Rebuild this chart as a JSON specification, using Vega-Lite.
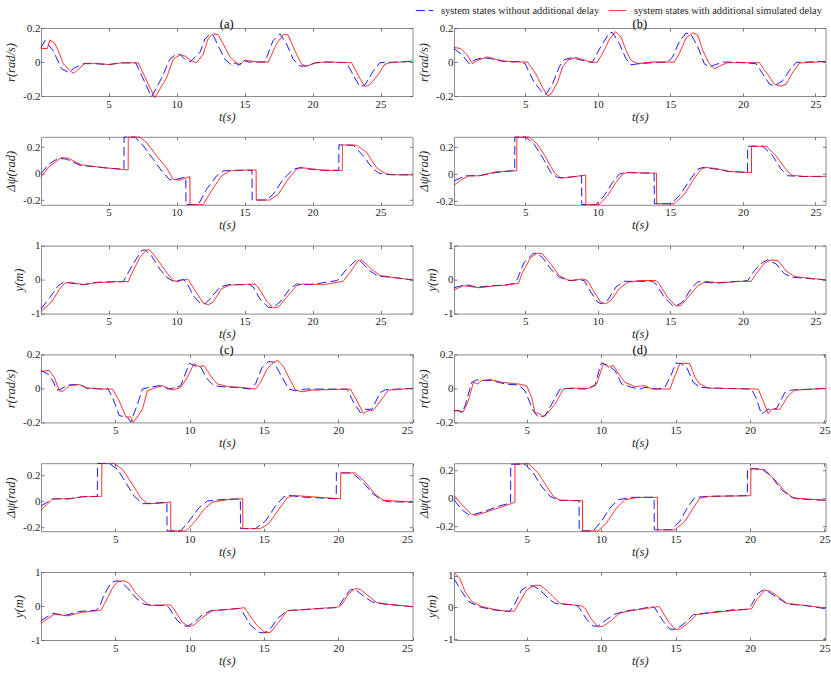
{
"$schema":"https://vega.github.io/schema/vega-lite/v6.json",
"padding":{"left":4,"top":1,"right":5,"bottom":4},
"background":"white",
"config":{
"font":"Liberation Serif",
"view":{"stroke":"#8c8c8c","strokeWidth":1},
"axis":{"labelFont":"Liberation Serif","labelFontSize":11,"labelColor":"#262626","titleFont":"Liberation Serif","titleFontSize":12.5,"titleFontStyle":"italic","titleFontWeight":"normal","titleColor":"#262626","domain":false,"grid":false,"tickColor":"#555555","tickSize":-3,"tickWidth":0.8},
"axisX":{"labelPadding":5,"titlePadding":1},
"axisY":{"labelPadding":4,"titlePadding":5,"format":".1~f","labelExpr":"replace(datum.label, '\u2212', '-')"},
"title":{"font":"Liberation Serif","fontSize":12.5,"fontWeight":"normal","color":"#000000","offset":-8},
"legend":{"labelFont":"Liberation Serif","labelFontSize":10.4,"labelColor":"#262626","labelLimit":400,"padding":0},
"line":{"strokeWidth":0.9,"clip":true}
},
"datasets":{
"ar":[{"s":"A","t":0.03,"v":0.085},{"s":"A","t":0.32,"v":0.126},{"s":"A","t":0.93,"v":0.066},{"s":"A","t":1.54,"v":-0.04},{"s":"A","t":2.03,"v":-0.06},{"s":"A","t":2.52,"v":-0.034},{"s":"A","t":3.14,"v":-0.01},{"s":"A","t":4,"v":-0.01},{"s":"A","t":5,"v":-0.015},{"s":"A","t":6,"v":-0.005},{"s":"A","t":7,"v":-0.005},{"s":"A","t":8.16,"v":-0.205},{"s":"A","t":8.9,"v":-0.094},{"s":"A","t":9.5,"v":0.016},{"s":"A","t":9.88,"v":0.04},{"s":"A","t":10.25,"v":0.046},{"s":"A","t":10.6,"v":0.016},{"s":"A","t":10.98,"v":0},{"s":"A","t":11.72,"v":0.056},{"s":"A","t":12.08,"v":0.136},{"s":"A","t":12.4,"v":0.16},{"s":"A","t":12.7,"v":0.156},{"s":"A","t":13.06,"v":0.096},{"s":"A","t":13.55,"v":0.016},{"s":"A","t":14.04,"v":-0.018},{"s":"A","t":14.3,"v":-0.005},{"s":"A","t":14.6,"v":-0.02},{"s":"A","t":14.9,"v":0.01},{"s":"A","t":15.3,"v":0},{"s":"A","t":15.8,"v":0},{"s":"A","t":16.5,"v":0},{"s":"A","t":17.1,"v":0.126},{"s":"A","t":17.6,"v":0.166},{"s":"A","t":18.09,"v":0.106},{"s":"A","t":18.58,"v":0.016},{"s":"A","t":19.07,"v":-0.024},{"s":"A","t":19.56,"v":-0.024},{"s":"A","t":20.2,"v":-0.005},{"s":"A","t":21,"v":0},{"s":"A","t":22,"v":-0.003},{"s":"A","t":22.5,"v":-0.004},{"s":"A","t":23.11,"v":-0.094},{"s":"A","t":23.48,"v":-0.145},{"s":"A","t":23.85,"v":-0.135},{"s":"A","t":24.46,"v":-0.054},{"s":"A","t":24.95,"v":-0.004},{"s":"A","t":25.5,"v":-0.002},{"s":"A","t":26.5,"v":0},{"s":"A","t":27.35,"v":0.005},
{"s":"B","t":0.03,"v":0.08},{"s":"B","t":0.5,"v":0.08},{"s":"B","t":0.69,"v":0.13},{"s":"B","t":1.05,"v":0.11},{"s":"B","t":1.3,"v":0.066},{"s":"B","t":1.67,"v":-0.01},{"s":"B","t":2.28,"v":-0.06},{"s":"B","t":2.45,"v":-0.065},{"s":"B","t":2.9,"v":-0.034},{"s":"B","t":3.26,"v":-0.008},{"s":"B","t":4,"v":-0.008},{"s":"B","t":5,"v":-0.015},{"s":"B","t":6,"v":-0.005},{"s":"B","t":7.18,"v":-0.005},{"s":"B","t":8.4,"v":-0.21},{"s":"B","t":9.26,"v":-0.094},{"s":"B","t":9.75,"v":0.016},{"s":"B","t":10.25,"v":0.042},{"s":"B","t":10.6,"v":0.036},{"s":"B","t":11.1,"v":0.006},{"s":"B","t":11.47,"v":-0.004},{"s":"B","t":11.96,"v":0.046},{"s":"B","t":12.33,"v":0.14},{"s":"B","t":12.7,"v":0.166},{"s":"B","t":13.06,"v":0.16},{"s":"B","t":13.43,"v":0.106},{"s":"B","t":13.92,"v":0.03},{"s":"B","t":14.4,"v":-0.004},{"s":"B","t":14.7,"v":-0.015},{"s":"B","t":15,"v":0.01},{"s":"B","t":15.5,"v":0.005},{"s":"B","t":16,"v":0},{"s":"B","t":16.74,"v":0},{"s":"B","t":17.35,"v":0.106},{"s":"B","t":17.84,"v":0.162},{"s":"B","t":18.2,"v":0.16},{"s":"B","t":18.7,"v":0.066},{"s":"B","t":19.2,"v":-0.014},{"s":"B","t":19.56,"v":-0.025},{"s":"B","t":20.2,"v":-0.005},{"s":"B","t":21,"v":0},{"s":"B","t":22,"v":-0.002},{"s":"B","t":22.87,"v":-0.004},{"s":"B","t":23.6,"v":-0.114},{"s":"B","t":23.85,"v":-0.145},{"s":"B","t":24.2,"v":-0.134},{"s":"B","t":24.83,"v":-0.074},{"s":"B","t":25.3,"v":-0.014},{"s":"B","t":25.7,"v":-0.004},{"s":"B","t":26.5,"v":0},{"s":"B","t":27.35,"v":0.005}],
"ap":[{"s":"A","t":0.03,"v":0},{"s":"A","t":0.6,"v":0.07},{"s":"A","t":1.3,"v":0.116},{"s":"A","t":1.9,"v":0.109},{"s":"A","t":2.9,"v":0.063},{"s":"A","t":4.6,"v":0.045},{"s":"A","t":5.96,"v":0.033},{"s":"A","t":6.13,"v":0.032},{"s":"A","t":6.14,"v":0.276},{"s":"A","t":6.94,"v":0.276},{"s":"A","t":7.55,"v":0.21},{"s":"A","t":8.28,"v":0.109},{"s":"A","t":8.9,"v":0.02},{"s":"A","t":9.5,"v":-0.048},{"s":"A","t":10,"v":-0.043},{"s":"A","t":10.49,"v":-0.03},{"s":"A","t":10.68,"v":-0.025},{"s":"A","t":10.69,"v":-0.234},{"s":"A","t":11.6,"v":-0.234},{"s":"A","t":12.2,"v":-0.119},{"s":"A","t":12.94,"v":-0.018},{"s":"A","t":13.43,"v":0.02},{"s":"A","t":14.4,"v":0.025},{"s":"A","t":15.55,"v":0.025},{"s":"A","t":15.56,"v":-0.2},{"s":"A","t":16.6,"v":-0.2},{"s":"A","t":17.1,"v":-0.157},{"s":"A","t":17.84,"v":-0.043},{"s":"A","t":18.58,"v":0.033},{"s":"A","t":19.07,"v":0.045},{"s":"A","t":19.8,"v":0.033},{"s":"A","t":20.78,"v":0.025},{"s":"A","t":21.93,"v":0.025},{"s":"A","t":21.94,"v":0.217},{"s":"A","t":23,"v":0.214},{"s":"A","t":23.73,"v":0.134},{"s":"A","t":24.46,"v":0.033},{"s":"A","t":24.95,"v":0},{"s":"A","t":25.7,"v":-0.008},{"s":"A","t":27.35,"v":-0.01},
{"s":"B","t":0.03,"v":-0.023},{"s":"B","t":0.69,"v":0.058},{"s":"B","t":1.54,"v":0.121},{"s":"B","t":2.03,"v":0.116},{"s":"B","t":3,"v":0.066},{"s":"B","t":4.6,"v":0.045},{"s":"B","t":6.3,"v":0.028},{"s":"B","t":6.44,"v":0.028},{"s":"B","t":6.45,"v":0.276},{"s":"B","t":7.3,"v":0.276},{"s":"B","t":7.79,"v":0.235},{"s":"B","t":8.53,"v":0.134},{"s":"B","t":9.26,"v":0.045},{"s":"B","t":9.75,"v":-0.043},{"s":"B","t":10.25,"v":-0.05},{"s":"B","t":10.74,"v":-0.03},{"s":"B","t":10.98,"v":-0.023},{"s":"B","t":10.99,"v":-0.234},{"s":"B","t":11.96,"v":-0.234},{"s":"B","t":12.57,"v":-0.13},{"s":"B","t":13.3,"v":-0.018},{"s":"B","t":13.92,"v":0.02},{"s":"B","t":14.7,"v":0.025},{"s":"B","t":15.85,"v":0.028},{"s":"B","t":15.86,"v":-0.2},{"s":"B","t":16.86,"v":-0.2},{"s":"B","t":17.48,"v":-0.157},{"s":"B","t":18.2,"v":-0.043},{"s":"B","t":18.82,"v":0.033},{"s":"B","t":19.2,"v":0.045},{"s":"B","t":19.8,"v":0.038},{"s":"B","t":20.8,"v":0.025},{"s":"B","t":22.19,"v":0.023},{"s":"B","t":22.2,"v":0.217},{"s":"B","t":23.24,"v":0.214},{"s":"B","t":23.97,"v":0.16},{"s":"B","t":24.7,"v":0.045},{"s":"B","t":25.2,"v":0.008},{"s":"B","t":25.7,"v":-0.008},{"s":"B","t":27.35,"v":-0.01}],
"ay":[{"s":"A","t":0.03,"v":-0.86},{"s":"A","t":0.69,"v":-0.52},{"s":"A","t":1.3,"v":-0.18},{"s":"A","t":1.67,"v":-0.08},{"s":"A","t":2.16,"v":-0.1},{"s":"A","t":3.14,"v":-0.15},{"s":"A","t":4.1,"v":-0.08},{"s":"A","t":5.6,"v":-0.06},{"s":"A","t":6.08,"v":-0.06},{"s":"A","t":6.8,"v":0.46},{"s":"A","t":7.43,"v":0.85},{"s":"A","t":7.67,"v":0.88},{"s":"A","t":8.16,"v":0.7},{"s":"A","t":8.77,"v":0.31},{"s":"A","t":9.26,"v":0.07},{"s":"A","t":9.75,"v":-0.05},{"s":"A","t":10.49,"v":0},{"s":"A","t":10.74,"v":-0.08},{"s":"A","t":11.23,"v":-0.47},{"s":"A","t":11.72,"v":-0.69},{"s":"A","t":12.08,"v":-0.71},{"s":"A","t":12.45,"v":-0.57},{"s":"A","t":13.19,"v":-0.22},{"s":"A","t":13.8,"v":-0.15},{"s":"A","t":15.39,"v":-0.15},{"s":"A","t":15.64,"v":-0.22},{"s":"A","t":16.13,"v":-0.57},{"s":"A","t":16.74,"v":-0.81},{"s":"A","t":17.1,"v":-0.83},{"s":"A","t":17.6,"v":-0.66},{"s":"A","t":18.33,"v":-0.27},{"s":"A","t":18.82,"v":-0.13},{"s":"A","t":19.8,"v":-0.15},{"s":"A","t":21.76,"v":-0.03},{"s":"A","t":21.9,"v":0},{"s":"A","t":22.5,"v":0.31},{"s":"A","t":23.24,"v":0.58},{"s":"A","t":23.48,"v":0.56},{"s":"A","t":24.2,"v":0.26},{"s":"A","t":24.83,"v":0.1},{"s":"A","t":26.2,"v":0.05},{"s":"A","t":27.35,"v":-0.01},
{"s":"B","t":0.03,"v":-0.93},{"s":"B","t":0.8,"v":-0.66},{"s":"B","t":1.42,"v":-0.27},{"s":"B","t":1.79,"v":-0.1},{"s":"B","t":2.16,"v":-0.08},{"s":"B","t":3.14,"v":-0.15},{"s":"B","t":4.1,"v":-0.09},{"s":"B","t":5.6,"v":-0.06},{"s":"B","t":6.45,"v":-0.06},{"s":"B","t":6.69,"v":0.17},{"s":"B","t":7.3,"v":0.65},{"s":"B","t":7.79,"v":0.88},{"s":"B","t":8.04,"v":0.87},{"s":"B","t":8.65,"v":0.56},{"s":"B","t":9.26,"v":0.21},{"s":"B","t":9.75,"v":-0.03},{"s":"B","t":10.12,"v":-0.06},{"s":"B","t":10.49,"v":0},{"s":"B","t":10.86,"v":0},{"s":"B","t":11.35,"v":-0.32},{"s":"B","t":11.96,"v":-0.69},{"s":"B","t":12.33,"v":-0.74},{"s":"B","t":12.7,"v":-0.66},{"s":"B","t":13.3,"v":-0.27},{"s":"B","t":13.92,"v":-0.16},{"s":"B","t":15.76,"v":-0.13},{"s":"B","t":16,"v":-0.22},{"s":"B","t":16.62,"v":-0.63},{"s":"B","t":17.1,"v":-0.83},{"s":"B","t":17.48,"v":-0.81},{"s":"B","t":18.09,"v":-0.52},{"s":"B","t":18.82,"v":-0.18},{"s":"B","t":19.3,"v":-0.13},{"s":"B","t":20.8,"v":-0.15},{"s":"B","t":22.25,"v":-0.05},{"s":"B","t":22.75,"v":0.21},{"s":"B","t":23.36,"v":0.56},{"s":"B","t":23.6,"v":0.58},{"s":"B","t":24.34,"v":0.31},{"s":"B","t":24.95,"v":0.12},{"s":"B","t":26.2,"v":0.05},{"s":"B","t":27.35,"v":-0.01}],
"br":[{"s":"A","t":0.1,"v":0.08},{"s":"A","t":0.68,"v":0.04},{"s":"A","t":1.14,"v":-0.01},{"s":"A","t":1.48,"v":0.01},{"s":"A","t":2.06,"v":0.026},{"s":"A","t":2.63,"v":0.02},{"s":"A","t":3.32,"v":0.006},{"s":"A","t":4.13,"v":0},{"s":"A","t":4.59,"v":0.004},{"s":"A","t":5,"v":-0.01},{"s":"A","t":5.62,"v":-0.12},{"s":"A","t":6.2,"v":-0.18},{"s":"A","t":6.43,"v":-0.19},{"s":"A","t":6.89,"v":-0.13},{"s":"A","t":7.34,"v":-0.03},{"s":"A","t":7.69,"v":0.014},{"s":"A","t":8.26,"v":0.026},{"s":"A","t":8.72,"v":0.014},{"s":"A","t":9.41,"v":0},{"s":"A","t":9.64,"v":0},{"s":"A","t":10.21,"v":0.09},{"s":"A","t":10.79,"v":0.17},{"s":"A","t":11,"v":0.175},{"s":"A","t":11.48,"v":0.11},{"s":"A","t":11.94,"v":0.02},{"s":"A","t":12.29,"v":-0.016},{"s":"A","t":12.86,"v":-0.01},{"s":"A","t":13.78,"v":-0.004},{"s":"A","t":14.82,"v":0},{"s":"A","t":15.16,"v":0.03},{"s":"A","t":15.62,"v":0.12},{"s":"A","t":16.08,"v":0.17},{"s":"A","t":16.43,"v":0.162},{"s":"A","t":16.89,"v":0.09},{"s":"A","t":17.34,"v":-0.01},{"s":"A","t":17.69,"v":-0.03},{"s":"A","t":18.15,"v":-0.014},{"s":"A","t":18.72,"v":0},{"s":"A","t":19.76,"v":-0.002},{"s":"A","t":20.9,"v":-0.01},{"s":"A","t":21.37,"v":-0.07},{"s":"A","t":21.83,"v":-0.13},{"s":"A","t":22.17,"v":-0.14},{"s":"A","t":22.75,"v":-0.11},{"s":"A","t":23.2,"v":-0.05},{"s":"A","t":23.67,"v":-0.002},{"s":"A","t":25.69,"v":0.003},
{"s":"B","t":0.1,"v":0.085},{"s":"B","t":0.56,"v":0.08},{"s":"B","t":1.02,"v":0.04},{"s":"B","t":1.37,"v":-0.01},{"s":"B","t":1.71,"v":0.01},{"s":"B","t":2.4,"v":0.03},{"s":"B","t":2.98,"v":0.016},{"s":"B","t":3.67,"v":0.004},{"s":"B","t":4.59,"v":0},{"s":"B","t":5.16,"v":0},{"s":"B","t":5.74,"v":-0.07},{"s":"B","t":6.2,"v":-0.15},{"s":"B","t":6.54,"v":-0.198},{"s":"B","t":6.77,"v":-0.19},{"s":"B","t":7.23,"v":-0.12},{"s":"B","t":7.57,"v":-0.03},{"s":"B","t":7.92,"v":0.01},{"s":"B","t":8.49,"v":0.026},{"s":"B","t":8.95,"v":0.016},{"s":"B","t":9.64,"v":-0.004},{"s":"B","t":9.99,"v":0},{"s":"B","t":10.45,"v":0.07},{"s":"B","t":10.8,"v":0.133},{"s":"B","t":11.14,"v":0.17},{"s":"B","t":11.25,"v":0.178},{"s":"B","t":11.6,"v":0.148},{"s":"B","t":11.94,"v":0.07},{"s":"B","t":12.29,"v":0.01},{"s":"B","t":12.75,"v":-0.01},{"s":"B","t":13.78,"v":0},{"s":"B","t":15.28,"v":0},{"s":"B","t":15.62,"v":0.05},{"s":"B","t":16.08,"v":0.14},{"s":"B","t":16.54,"v":0.172},{"s":"B","t":16.89,"v":0.158},{"s":"B","t":17.23,"v":0.07},{"s":"B","t":17.69,"v":-0.01},{"s":"B","t":18.03,"v":-0.04},{"s":"B","t":18.5,"v":-0.02},{"s":"B","t":18.95,"v":-0.004},{"s":"B","t":21.14,"v":-0.004},{"s":"B","t":21.6,"v":-0.06},{"s":"B","t":22.17,"v":-0.13},{"s":"B","t":22.63,"v":-0.142},{"s":"B","t":22.98,"v":-0.13},{"s":"B","t":23.44,"v":-0.06},{"s":"B","t":23.9,"v":-0.006},{"s":"B","t":25.69,"v":0.003}],
"bp":[{"s":"A","t":0.1,"v":-0.05},{"s":"A","t":0.9,"v":-0.012},{"s":"A","t":1.83,"v":-0.012},{"s":"A","t":2.98,"v":0.012},{"s":"A","t":4.13,"v":0.025},{"s":"A","t":4.28,"v":0.025},{"s":"A","t":4.29,"v":0.276},{"s":"A","t":5.05,"v":0.276},{"s":"A","t":5.62,"v":0.223},{"s":"A","t":6.2,"v":0.124},{"s":"A","t":6.77,"v":0.012},{"s":"A","t":7.23,"v":-0.025},{"s":"A","t":7.8,"v":-0.025},{"s":"A","t":8.89,"v":-0.012},{"s":"A","t":8.9,"v":-0.226},{"s":"A","t":9.87,"v":-0.226},{"s":"A","t":10.45,"v":-0.16},{"s":"A","t":11.02,"v":-0.062},{"s":"A","t":11.48,"v":0},{"s":"A","t":11.83,"v":0.012},{"s":"A","t":13.89,"v":0.007},{"s":"A","t":13.9,"v":-0.22},{"s":"A","t":15.05,"v":-0.22},{"s":"A","t":15.62,"v":-0.16},{"s":"A","t":16.31,"v":-0.05},{"s":"A","t":16.89,"v":0.037},{"s":"A","t":17.23,"v":0.05},{"s":"A","t":18.15,"v":0.037},{"s":"A","t":19.07,"v":0.02},{"s":"A","t":20.32,"v":0.012},{"s":"A","t":20.33,"v":0.208},{"s":"A","t":21.37,"v":0.208},{"s":"A","t":22.06,"v":0.136},{"s":"A","t":22.63,"v":0.037},{"s":"A","t":23.09,"v":-0.012},{"s":"A","t":24.13,"v":-0.017},{"s":"A","t":25.69,"v":-0.017},
{"s":"B","t":0.1,"v":-0.082},{"s":"B","t":0.68,"v":-0.037},{"s":"B","t":1.14,"v":-0.012},{"s":"B","t":1.83,"v":-0.012},{"s":"B","t":2.98,"v":0.017},{"s":"B","t":4.13,"v":0.025},{"s":"B","t":4.42,"v":0.025},{"s":"B","t":4.43,"v":0.276},{"s":"B","t":5.28,"v":0.276},{"s":"B","t":5.85,"v":0.223},{"s":"B","t":6.43,"v":0.124},{"s":"B","t":7,"v":0.012},{"s":"B","t":7.46,"v":-0.03},{"s":"B","t":7.92,"v":-0.025},{"s":"B","t":9.17,"v":-0.007},{"s":"B","t":9.18,"v":-0.226},{"s":"B","t":10.1,"v":-0.226},{"s":"B","t":10.68,"v":-0.16},{"s":"B","t":11.25,"v":-0.062},{"s":"B","t":11.71,"v":0},{"s":"B","t":12.06,"v":0.012},{"s":"B","t":14.05,"v":0.007},{"s":"B","t":14.06,"v":-0.22},{"s":"B","t":15.28,"v":-0.22},{"s":"B","t":15.97,"v":-0.15},{"s":"B","t":16.54,"v":-0.05},{"s":"B","t":17.11,"v":0.037},{"s":"B","t":17.46,"v":0.05},{"s":"B","t":18.15,"v":0.042},{"s":"B","t":19.07,"v":0.02},{"s":"B","t":20.59,"v":0.012},{"s":"B","t":20.6,"v":0.208},{"s":"B","t":21.6,"v":0.208},{"s":"B","t":22.29,"v":0.136},{"s":"B","t":22.86,"v":0.05},{"s":"B","t":23.32,"v":-0.007},{"s":"B","t":24.13,"v":-0.017},{"s":"B","t":25.69,"v":-0.017}],
"by":[{"s":"A","t":0.1,"v":-0.24},{"s":"A","t":0.9,"v":-0.15},{"s":"A","t":1.71,"v":-0.22},{"s":"A","t":2.75,"v":-0.18},{"s":"A","t":3.67,"v":-0.16},{"s":"A","t":4.24,"v":-0.11},{"s":"A","t":4.47,"v":0.02},{"s":"A","t":4.93,"v":0.51},{"s":"A","t":5.51,"v":0.75},{"s":"A","t":5.74,"v":0.78},{"s":"A","t":6.2,"v":0.65},{"s":"A","t":6.77,"v":0.31},{"s":"A","t":7.34,"v":0.07},{"s":"A","t":8.03,"v":-0.03},{"s":"A","t":8.72,"v":0},{"s":"A","t":9.07,"v":-0.03},{"s":"A","t":9.53,"v":-0.37},{"s":"A","t":9.99,"v":-0.66},{"s":"A","t":10.22,"v":-0.71},{"s":"A","t":10.68,"v":-0.61},{"s":"A","t":11.25,"v":-0.22},{"s":"A","t":11.83,"v":-0.05},{"s":"A","t":13.78,"v":-0.05},{"s":"A","t":14.01,"v":-0.13},{"s":"A","t":14.59,"v":-0.52},{"s":"A","t":15.16,"v":-0.76},{"s":"A","t":15.39,"v":-0.78},{"s":"A","t":15.85,"v":-0.66},{"s":"A","t":16.43,"v":-0.27},{"s":"A","t":16.89,"v":-0.06},{"s":"A","t":17.92,"v":-0.1},{"s":"A","t":19.76,"v":-0.05},{"s":"A","t":20.33,"v":-0.03},{"s":"A","t":20.79,"v":0.26},{"s":"A","t":21.37,"v":0.51},{"s":"A","t":21.71,"v":0.58},{"s":"A","t":22.29,"v":0.46},{"s":"A","t":22.86,"v":0.17},{"s":"A","t":23.44,"v":0.07},{"s":"A","t":25.69,"v":-0.01},
{"s":"B","t":0.1,"v":-0.3},{"s":"B","t":0.79,"v":-0.18},{"s":"B","t":1.83,"v":-0.24},{"s":"B","t":2.75,"v":-0.19},{"s":"B","t":3.67,"v":-0.16},{"s":"B","t":4.54,"v":-0.11},{"s":"B","t":4.82,"v":0.21},{"s":"B","t":5.39,"v":0.65},{"s":"B","t":5.85,"v":0.78},{"s":"B","t":6.2,"v":0.75},{"s":"B","t":6.77,"v":0.46},{"s":"B","t":7.34,"v":0.12},{"s":"B","t":7.92,"v":-0.01},{"s":"B","t":8.26,"v":-0.03},{"s":"B","t":8.95,"v":0.02},{"s":"B","t":9.3,"v":-0.03},{"s":"B","t":9.76,"v":-0.37},{"s":"B","t":10.22,"v":-0.68},{"s":"B","t":10.56,"v":-0.71},{"s":"B","t":10.91,"v":-0.61},{"s":"B","t":11.48,"v":-0.27},{"s":"B","t":12.06,"v":-0.08},{"s":"B","t":12.86,"v":-0.03},{"s":"B","t":14.01,"v":-0.03},{"s":"B","t":14.24,"v":-0.13},{"s":"B","t":14.82,"v":-0.52},{"s":"B","t":15.39,"v":-0.78},{"s":"B","t":15.74,"v":-0.76},{"s":"B","t":16.31,"v":-0.47},{"s":"B","t":16.89,"v":-0.18},{"s":"B","t":17.46,"v":-0.05},{"s":"B","t":18.38,"v":-0.1},{"s":"B","t":19.76,"v":-0.05},{"s":"B","t":20.56,"v":-0.05},{"s":"B","t":20.91,"v":0.17},{"s":"B","t":21.48,"v":0.48},{"s":"B","t":21.94,"v":0.58},{"s":"B","t":22.4,"v":0.56},{"s":"B","t":22.98,"v":0.26},{"s":"B","t":23.55,"v":0.09},{"s":"B","t":25.69,"v":-0.01}],
"cr":[{"s":"A","t":0.01,"v":0.105},{"s":"A","t":0.46,"v":0.085},{"s":"A","t":0.8,"v":0.046},{"s":"A","t":1.09,"v":-0.01},{"s":"A","t":1.35,"v":-0.004},{"s":"A","t":1.8,"v":0.02},{"s":"A","t":2.25,"v":0.022},{"s":"A","t":2.7,"v":0.022},{"s":"A","t":3.03,"v":0.002},{"s":"A","t":4.15,"v":-0.004},{"s":"A","t":4.49,"v":0.002},{"s":"A","t":4.82,"v":-0.053},{"s":"A","t":5.27,"v":-0.16},{"s":"A","t":5.6,"v":-0.166},{"s":"A","t":5.83,"v":-0.17},{"s":"A","t":6.05,"v":-0.198},{"s":"A","t":6.5,"v":-0.093},{"s":"A","t":6.83,"v":-0.004},{"s":"A","t":7.28,"v":0.006},{"s":"A","t":7.95,"v":0.016},{"s":"A","t":8.62,"v":-0.004},{"s":"A","t":9.07,"v":0.006},{"s":"A","t":9.41,"v":0.016},{"s":"A","t":9.85,"v":0.115},{"s":"A","t":10,"v":0.148},{"s":"A","t":10.3,"v":0.134},{"s":"A","t":10.75,"v":0.125},{"s":"A","t":11.2,"v":0.055},{"s":"A","t":11.64,"v":0.016},{"s":"A","t":12.2,"v":0.01},{"s":"A","t":13.1,"v":0.006},{"s":"A","t":14.1,"v":-0.004},{"s":"A","t":14.44,"v":0.026},{"s":"A","t":14.89,"v":0.125},{"s":"A","t":15.34,"v":0.158},{"s":"A","t":15.67,"v":0.154},{"s":"A","t":16.23,"v":0.065},{"s":"A","t":16.68,"v":-0.004},{"s":"A","t":17.13,"v":-0.014},{"s":"A","t":17.8,"v":-0.004},{"s":"A","t":20.6,"v":-0.004},{"s":"A","t":21.04,"v":-0.083},{"s":"A","t":21.49,"v":-0.143},{"s":"A","t":21.82,"v":-0.123},{"s":"A","t":22.27,"v":-0.123},{"s":"A","t":22.83,"v":-0.024},{"s":"A","t":23.17,"v":-0.008},{"s":"A","t":25,"v":0},
{"s":"B","t":0.01,"v":0.1},{"s":"B","t":0.57,"v":0.105},{"s":"B","t":0.9,"v":0.065},{"s":"B","t":1.24,"v":-0.014},{"s":"B","t":1.47,"v":-0.018},{"s":"B","t":1.91,"v":0.016},{"s":"B","t":2.58,"v":0.022},{"s":"B","t":3.14,"v":0.002},{"s":"B","t":4.37,"v":-0.004},{"s":"B","t":4.82,"v":-0.004},{"s":"B","t":5.27,"v":-0.073},{"s":"B","t":5.72,"v":-0.168},{"s":"B","t":6.05,"v":-0.168},{"s":"B","t":6.21,"v":-0.2},{"s":"B","t":6.39,"v":-0.18},{"s":"B","t":6.83,"v":-0.123},{"s":"B","t":7.17,"v":-0.014},{"s":"B","t":7.62,"v":0.002},{"s":"B","t":8.18,"v":0.016},{"s":"B","t":8.85,"v":-0.01},{"s":"B","t":9.41,"v":0.006},{"s":"B","t":9.85,"v":0.065},{"s":"B","t":10.3,"v":0.145},{"s":"B","t":10.64,"v":0.128},{"s":"B","t":10.97,"v":0.134},{"s":"B","t":11.42,"v":0.075},{"s":"B","t":11.87,"v":0.026},{"s":"B","t":12.65,"v":0.01},{"s":"B","t":13.55,"v":0.006},{"s":"B","t":14.44,"v":-0.004},{"s":"B","t":14.78,"v":0.036},{"s":"B","t":15.22,"v":0.115},{"s":"B","t":15.67,"v":0.154},{"s":"B","t":15.96,"v":0.164},{"s":"B","t":16.34,"v":0.125},{"s":"B","t":16.79,"v":0.046},{"s":"B","t":17.13,"v":-0.01},{"s":"B","t":17.57,"v":-0.02},{"s":"B","t":18.24,"v":-0.01},{"s":"B","t":20.82,"v":-0.004},{"s":"B","t":21.26,"v":-0.073},{"s":"B","t":21.71,"v":-0.148},{"s":"B","t":21.93,"v":-0.133},{"s":"B","t":22.38,"v":-0.128},{"s":"B","t":22.94,"v":-0.063},{"s":"B","t":23.39,"v":-0.01},{"s":"B","t":25,"v":0}],
"cp":[{"s":"A","t":0.01,"v":-0.036},{"s":"A","t":0.8,"v":0.02},{"s":"A","t":1.91,"v":0.02},{"s":"A","t":2.81,"v":0.036},{"s":"A","t":3.8,"v":0.039},{"s":"A","t":3.81,"v":0.293},{"s":"A","t":4.6,"v":0.293},{"s":"A","t":5.16,"v":0.248},{"s":"A","t":5.72,"v":0.144},{"s":"A","t":6.28,"v":0.041},{"s":"A","t":6.83,"v":-0.018},{"s":"A","t":7.5,"v":-0.015},{"s":"A","t":8.48,"v":-0.005},{"s":"A","t":8.49,"v":-0.228},{"s":"A","t":9.41,"v":-0.228},{"s":"A","t":9.97,"v":-0.152},{"s":"A","t":10.64,"v":-0.049},{"s":"A","t":11.2,"v":0.003},{"s":"A","t":12.2,"v":0.015},{"s":"A","t":13.42,"v":0.02},{"s":"A","t":13.43,"v":-0.21},{"s":"A","t":14.44,"v":-0.21},{"s":"A","t":15.11,"v":-0.152},{"s":"A","t":15.78,"v":-0.036},{"s":"A","t":16.34,"v":0.036},{"s":"A","t":16.68,"v":0.046},{"s":"A","t":17.57,"v":0.034},{"s":"A","t":19.87,"v":0.02},{"s":"A","t":19.88,"v":0.22},{"s":"A","t":20.93,"v":0.22},{"s":"A","t":21.6,"v":0.157},{"s":"A","t":22.27,"v":0.067},{"s":"A","t":22.83,"v":0.015},{"s":"A","t":23.39,"v":-0.003},{"s":"A","t":25,"v":-0.005},
{"s":"B","t":0.01,"v":-0.067},{"s":"B","t":0.8,"v":0.02},{"s":"B","t":1.91,"v":0.02},{"s":"B","t":2.81,"v":0.036},{"s":"B","t":4.09,"v":0.039},{"s":"B","t":4.1,"v":0.293},{"s":"B","t":4.93,"v":0.293},{"s":"B","t":5.49,"v":0.248},{"s":"B","t":6.16,"v":0.132},{"s":"B","t":6.72,"v":0.028},{"s":"B","t":7.17,"v":-0.018},{"s":"B","t":7.95,"v":-0.015},{"s":"B","t":8.73,"v":-0.005},{"s":"B","t":8.74,"v":-0.228},{"s":"B","t":9.74,"v":-0.228},{"s":"B","t":10.3,"v":-0.165},{"s":"B","t":10.97,"v":-0.062},{"s":"B","t":11.53,"v":-0.005},{"s":"B","t":12.65,"v":0.015},{"s":"B","t":13.58,"v":0.02},{"s":"B","t":13.59,"v":-0.21},{"s":"B","t":14.78,"v":-0.21},{"s":"B","t":15.34,"v":-0.17},{"s":"B","t":16,"v":-0.062},{"s":"B","t":16.57,"v":0.028},{"s":"B","t":17.01,"v":0.046},{"s":"B","t":17.57,"v":0.041},{"s":"B","t":20.16,"v":0.02},{"s":"B","t":20.17,"v":0.22},{"s":"B","t":21.15,"v":0.22},{"s":"B","t":21.82,"v":0.15},{"s":"B","t":22.49,"v":0.054},{"s":"B","t":23.05,"v":0.008},{"s":"B","t":25,"v":-0.005}],
"cy":[{"s":"A","t":0.01,"v":-0.43},{"s":"A","t":0.8,"v":-0.22},{"s":"A","t":1.69,"v":-0.27},{"s":"A","t":2.58,"v":-0.16},{"s":"A","t":3.7,"v":-0.125},{"s":"A","t":3.93,"v":-0.05},{"s":"A","t":4.26,"v":0.34},{"s":"A","t":4.71,"v":0.67},{"s":"A","t":5.04,"v":0.74},{"s":"A","t":5.38,"v":0.72},{"s":"A","t":5.83,"v":0.53},{"s":"A","t":6.39,"v":0.24},{"s":"A","t":6.95,"v":0.05},{"s":"A","t":7.5,"v":0.02},{"s":"A","t":8.4,"v":0.02},{"s":"A","t":8.62,"v":-0.05},{"s":"A","t":9.18,"v":-0.43},{"s":"A","t":9.63,"v":-0.58},{"s":"A","t":9.85,"v":-0.6},{"s":"A","t":10.3,"v":-0.48},{"s":"A","t":10.86,"v":-0.26},{"s":"A","t":11.42,"v":-0.14},{"s":"A","t":12.65,"v":-0.1},{"s":"A","t":13.32,"v":-0.07},{"s":"A","t":13.59,"v":-0.19},{"s":"A","t":14.1,"v":-0.56},{"s":"A","t":14.66,"v":-0.77},{"s":"A","t":15,"v":-0.79},{"s":"A","t":15.34,"v":-0.72},{"s":"A","t":16,"v":-0.34},{"s":"A","t":16.57,"v":-0.14},{"s":"A","t":16.9,"v":-0.125},{"s":"A","t":19.8,"v":-0.05},{"s":"A","t":20.03,"v":-0.02},{"s":"A","t":20.48,"v":0.29},{"s":"A","t":20.82,"v":0.48},{"s":"A","t":21.15,"v":0.49},{"s":"A","t":21.71,"v":0.29},{"s":"A","t":22.27,"v":0.12},{"s":"A","t":23.17,"v":0.05},{"s":"A","t":25,"v":-0.02},
{"s":"B","t":0.01,"v":-0.51},{"s":"B","t":0.91,"v":-0.24},{"s":"B","t":1.8,"v":-0.29},{"s":"B","t":2.7,"v":-0.19},{"s":"B","t":4.04,"v":-0.125},{"s":"B","t":4.37,"v":0.14},{"s":"B","t":4.82,"v":0.53},{"s":"B","t":5.16,"v":0.72},{"s":"B","t":5.6,"v":0.74},{"s":"B","t":5.94,"v":0.67},{"s":"B","t":6.39,"v":0.38},{"s":"B","t":6.83,"v":0.19},{"s":"B","t":7.28,"v":0.02},{"s":"B","t":8.74,"v":0.03},{"s":"B","t":8.96,"v":-0.1},{"s":"B","t":9.52,"v":-0.48},{"s":"B","t":9.97,"v":-0.61},{"s":"B","t":10.3,"v":-0.56},{"s":"B","t":10.86,"v":-0.34},{"s":"B","t":11.53,"v":-0.14},{"s":"B","t":13.1,"v":-0.08},{"s":"B","t":13.72,"v":-0.05},{"s":"B","t":13.99,"v":-0.24},{"s":"B","t":14.55,"v":-0.58},{"s":"B","t":15.11,"v":-0.79},{"s":"B","t":15.45,"v":-0.77},{"s":"B","t":16,"v":-0.48},{"s":"B","t":16.57,"v":-0.14},{"s":"B","t":17.13,"v":-0.125},{"s":"B","t":20.03,"v":-0.03},{"s":"B","t":20.26,"v":0.05},{"s":"B","t":20.7,"v":0.36},{"s":"B","t":21.15,"v":0.51},{"s":"B","t":21.49,"v":0.49},{"s":"B","t":22.05,"v":0.29},{"s":"B","t":22.6,"v":0.1},{"s":"B","t":23.39,"v":0.05},{"s":"B","t":25,"v":-0.02}],
"dr":[{"s":"A","t":0.12,"v":-0.133},{"s":"A","t":0.41,"v":-0.129},{"s":"A","t":0.64,"v":-0.143},{"s":"A","t":0.86,"v":-0.103},{"s":"A","t":1.31,"v":0.036},{"s":"A","t":1.64,"v":0.05},{"s":"A","t":2.09,"v":0.046},{"s":"A","t":2.65,"v":0.046},{"s":"A","t":3.55,"v":0.026},{"s":"A","t":4.44,"v":0.02},{"s":"A","t":4.89,"v":-0.014},{"s":"A","t":5.45,"v":-0.133},{"s":"A","t":5.78,"v":-0.168},{"s":"A","t":6.23,"v":-0.162},{"s":"A","t":6.68,"v":-0.093},{"s":"A","t":7.24,"v":-0.004},{"s":"A","t":7.68,"v":0},{"s":"A","t":8.91,"v":-0.004},{"s":"A","t":9.59,"v":0.016},{"s":"A","t":9.92,"v":0.125},{"s":"A","t":10.03,"v":0.15},{"s":"A","t":10.48,"v":0.135},{"s":"A","t":10.93,"v":0.105},{"s":"A","t":11.38,"v":0.026},{"s":"A","t":12.05,"v":0.006},{"s":"A","t":12.61,"v":-0.004},{"s":"A","t":12.94,"v":0.006},{"s":"A","t":13.84,"v":-0.004},{"s":"A","t":14.28,"v":0.006},{"s":"A","t":14.73,"v":0.085},{"s":"A","t":15.02,"v":0.15},{"s":"A","t":15.4,"v":0.145},{"s":"A","t":15.74,"v":0.125},{"s":"A","t":16.19,"v":0.036},{"s":"A","t":16.63,"v":0.006},{"s":"A","t":17.42,"v":0.002},{"s":"A","t":20.1,"v":-0.004},{"s":"A","t":20.44,"v":-0.063},{"s":"A","t":20.77,"v":-0.152},{"s":"A","t":21.22,"v":-0.123},{"s":"A","t":21.78,"v":-0.119},{"s":"A","t":22.34,"v":-0.024},{"s":"A","t":22.79,"v":-0.01},{"s":"A","t":25.07,"v":0},
{"s":"B","t":0.12,"v":-0.129},{"s":"B","t":0.75,"v":-0.137},{"s":"B","t":1.09,"v":-0.073},{"s":"B","t":1.42,"v":0.036},{"s":"B","t":1.71,"v":0.026},{"s":"B","t":1.98,"v":0.046},{"s":"B","t":2.54,"v":0.052},{"s":"B","t":3.32,"v":0.036},{"s":"B","t":4.44,"v":0.026},{"s":"B","t":5,"v":0.016},{"s":"B","t":5.34,"v":-0.053},{"s":"B","t":5.56,"v":-0.143},{"s":"B","t":5.89,"v":-0.149},{"s":"B","t":6.05,"v":-0.168},{"s":"B","t":6.34,"v":-0.152},{"s":"B","t":6.9,"v":-0.093},{"s":"B","t":7.46,"v":-0.004},{"s":"B","t":8.02,"v":0.002},{"s":"B","t":9.14,"v":0},{"s":"B","t":9.7,"v":0.026},{"s":"B","t":10.15,"v":0.145},{"s":"B","t":10.48,"v":0.125},{"s":"B","t":10.82,"v":0.135},{"s":"B","t":11.26,"v":0.075},{"s":"B","t":11.6,"v":0.036},{"s":"B","t":12.27,"v":0.01},{"s":"B","t":12.94,"v":0.016},{"s":"B","t":13.39,"v":-0.004},{"s":"B","t":14.62,"v":-0.004},{"s":"B","t":14.96,"v":0.075},{"s":"B","t":15.29,"v":0.145},{"s":"B","t":15.63,"v":0.148},{"s":"B","t":15.96,"v":0.145},{"s":"B","t":16.3,"v":0.065},{"s":"B","t":16.63,"v":0.026},{"s":"B","t":17.19,"v":0.002},{"s":"B","t":20.55,"v":-0.004},{"s":"B","t":20.88,"v":-0.073},{"s":"B","t":21.22,"v":-0.149},{"s":"B","t":21.44,"v":-0.123},{"s":"B","t":22,"v":-0.123},{"s":"B","t":22.56,"v":-0.044},{"s":"B","t":23.01,"v":-0.01},{"s":"B","t":25.07,"v":0}],
"dp":[{"s":"A","t":0.12,"v":-0.01},{"s":"A","t":0.64,"v":-0.081},{"s":"A","t":1.09,"v":-0.117},{"s":"A","t":1.42,"v":-0.117},{"s":"A","t":2.2,"v":-0.093},{"s":"A","t":3.1,"v":-0.057},{"s":"A","t":3.92,"v":-0.033},{"s":"A","t":3.93,"v":0.245},{"s":"A","t":4.89,"v":0.245},{"s":"A","t":5.45,"v":0.181},{"s":"A","t":6,"v":0.086},{"s":"A","t":6.57,"v":0.014},{"s":"A","t":7.13,"v":-0.014},{"s":"A","t":8.52,"v":-0.017},{"s":"A","t":8.53,"v":-0.234},{"s":"A","t":9.47,"v":-0.234},{"s":"A","t":10.03,"v":-0.164},{"s":"A","t":10.59,"v":-0.069},{"s":"A","t":11.15,"v":-0.01},{"s":"A","t":12.05,"v":0.007},{"s":"A","t":13.56,"v":0.007},{"s":"A","t":13.57,"v":-0.226},{"s":"A","t":14.73,"v":-0.226},{"s":"A","t":15.29,"v":-0.164},{"s":"A","t":15.85,"v":-0.057},{"s":"A","t":16.3,"v":0.007},{"s":"A","t":17.19,"v":0.014},{"s":"A","t":19.82,"v":0.019},{"s":"A","t":19.83,"v":0.212},{"s":"A","t":20.77,"v":0.212},{"s":"A","t":21.44,"v":0.157},{"s":"A","t":22.11,"v":0.062},{"s":"A","t":22.67,"v":0.014},{"s":"A","t":23.23,"v":-0.005},{"s":"A","t":25.07,"v":-0.014},
{"s":"B","t":0.12,"v":0.021},{"s":"B","t":0.64,"v":-0.045},{"s":"B","t":1.31,"v":-0.117},{"s":"B","t":1.64,"v":-0.121},{"s":"B","t":2.43,"v":-0.093},{"s":"B","t":3.32,"v":-0.062},{"s":"B","t":4.21,"v":-0.029},{"s":"B","t":4.22,"v":0.245},{"s":"B","t":5.11,"v":0.25},{"s":"B","t":5.78,"v":0.181},{"s":"B","t":6.34,"v":0.086},{"s":"B","t":6.79,"v":0.014},{"s":"B","t":7.24,"v":-0.014},{"s":"B","t":8.75,"v":-0.017},{"s":"B","t":8.76,"v":-0.234},{"s":"B","t":9.81,"v":-0.234},{"s":"B","t":10.37,"v":-0.176},{"s":"B","t":11.04,"v":-0.069},{"s":"B","t":11.6,"v":-0.01},{"s":"B","t":12.49,"v":0.007},{"s":"B","t":13.78,"v":0.007},{"s":"B","t":13.79,"v":-0.226},{"s":"B","t":14.96,"v":-0.226},{"s":"B","t":15.63,"v":-0.164},{"s":"B","t":16.19,"v":-0.069},{"s":"B","t":16.63,"v":0.002},{"s":"B","t":17.3,"v":0.014},{"s":"B","t":20.05,"v":0.019},{"s":"B","t":20.06,"v":0.212},{"s":"B","t":21,"v":0.205},{"s":"B","t":21.67,"v":0.133},{"s":"B","t":22.34,"v":0.05},{"s":"B","t":22.9,"v":0.002},{"s":"B","t":25.07,"v":-0.014}],
"dy":[{"s":"A","t":0.12,"v":0.91},{"s":"A","t":0.64,"v":0.5},{"s":"A","t":1.09,"v":0.19},{"s":"A","t":1.76,"v":0.03},{"s":"A","t":2.65,"v":-0.07},{"s":"A","t":3.55,"v":-0.12},{"s":"A","t":3.88,"v":-0.12},{"s":"A","t":4.22,"v":0.13},{"s":"A","t":4.66,"v":0.55},{"s":"A","t":5.11,"v":0.68},{"s":"A","t":5.45,"v":0.68},{"s":"A","t":5.9,"v":0.55},{"s":"A","t":6.45,"v":0.29},{"s":"A","t":6.9,"v":0.13},{"s":"A","t":7.35,"v":0.1},{"s":"A","t":8.24,"v":0.08},{"s":"A","t":8.47,"v":0.03},{"s":"A","t":9.03,"v":-0.38},{"s":"A","t":9.47,"v":-0.59},{"s":"A","t":9.81,"v":-0.59},{"s":"A","t":10.37,"v":-0.38},{"s":"A","t":10.93,"v":-0.21},{"s":"A","t":11.6,"v":-0.12},{"s":"A","t":12.72,"v":-0.04},{"s":"A","t":13.39,"v":0.03},{"s":"A","t":13.61,"v":-0.02},{"s":"A","t":14.17,"v":-0.44},{"s":"A","t":14.62,"v":-0.69},{"s":"A","t":15.07,"v":-0.69},{"s":"A","t":15.63,"v":-0.49},{"s":"A","t":16.19,"v":-0.23},{"s":"A","t":16.97,"v":-0.18},{"s":"A","t":18.98,"v":-0.07},{"s":"A","t":19.76,"v":-0.07},{"s":"A","t":20.1,"v":0.08},{"s":"A","t":20.55,"v":0.45},{"s":"A","t":20.89,"v":0.55},{"s":"A","t":21.22,"v":0.5},{"s":"A","t":21.89,"v":0.29},{"s":"A","t":22.56,"v":0.1},{"s":"A","t":23.68,"v":0.06},{"s":"A","t":25.07,"v":-0.04},
{"s":"B","t":0.12,"v":1.1},{"s":"B","t":0.52,"v":0.91},{"s":"B","t":0.86,"v":0.5},{"s":"B","t":1.31,"v":0.19},{"s":"B","t":1.98,"v":0.03},{"s":"B","t":2.87,"v":-0.07},{"s":"B","t":3.66,"v":-0.12},{"s":"B","t":4.17,"v":-0.12},{"s":"B","t":4.55,"v":0.19},{"s":"B","t":5,"v":0.55},{"s":"B","t":5.56,"v":0.7},{"s":"B","t":5.9,"v":0.7},{"s":"B","t":6.34,"v":0.55},{"s":"B","t":6.79,"v":0.34},{"s":"B","t":7.24,"v":0.13},{"s":"B","t":7.68,"v":0.1},{"s":"B","t":8.69,"v":0.05},{"s":"B","t":8.91,"v":-0.02},{"s":"B","t":9.36,"v":-0.38},{"s":"B","t":9.81,"v":-0.62},{"s":"B","t":10.15,"v":-0.59},{"s":"B","t":10.7,"v":-0.41},{"s":"B","t":11.26,"v":-0.18},{"s":"B","t":11.82,"v":-0.12},{"s":"B","t":12.94,"v":-0.04},{"s":"B","t":13.84,"v":0.03},{"s":"B","t":13.95,"v":0},{"s":"B","t":14.51,"v":-0.44},{"s":"B","t":14.96,"v":-0.69},{"s":"B","t":15.29,"v":-0.69},{"s":"B","t":15.85,"v":-0.49},{"s":"B","t":16.41,"v":-0.23},{"s":"B","t":17.19,"v":-0.18},{"s":"B","t":19.88,"v":-0.05},{"s":"B","t":20.1,"v":-0.05},{"s":"B","t":20.44,"v":0.24},{"s":"B","t":21,"v":0.55},{"s":"B","t":21.33,"v":0.52},{"s":"B","t":21.89,"v":0.34},{"s":"B","t":22.45,"v":0.13},{"s":"B","t":23.79,"v":0.06},{"s":"B","t":25.07,"v":-0.02}]
},
"columns":2,
"bounds":"flush",
"spacing":{"row":40.8,"column":41},
"concat":[
{"data":{"name":"ar"},"title":"(a)","width":371.5,"height":68,"resolve":{"axis":{"x":"independent","y":"independent"}},"layer":[
{"mark":"line","encoding":{"x":{"field":"t","type":"quantitative","scale":{"domain":[0.03,27.35],"nice":false,"zero":false},"axis":{"title":"t(s)","values":[5,10,15,20,25]}},"y":{"field":"v","type":"quantitative","scale":{"domain":[-0.2,0.2],"nice":false,"zero":false},"axis":{"title":"r(rad/s)","values":[-0.2,0,0.2]}},"color":{"field":"s","type":"nominal","scale":{"domain":["A","B"],"range":["#0000ff","#ff0000"]},"legend":{"title":null,"orient":"none","legendX":374,"legendY":-27,"direction":"horizontal","symbolType":"stroke","symbolSize":300,"symbolStrokeWidth":1.6,"labelOffset":7,"columnPadding":7,"labelLimit":400,"labelExpr":"datum.label == 'A' ? 'system states without additional delay' : 'system states with additional simulated delay'"}},"strokeDash":{"field":"s","type":"nominal","scale":{"domain":["A","B"],"range":[[9,4],[1,0]]},"legend":{"title":null,"orient":"none","legendX":374,"legendY":-27,"direction":"horizontal","symbolType":"stroke","symbolSize":300,"symbolStrokeWidth":1.6,"labelOffset":7,"columnPadding":7,"labelLimit":400,"labelExpr":"datum.label == 'A' ? 'system states without additional delay' : 'system states with additional simulated delay'"}}}},
{"mark":{"type":"line","opacity":0},"encoding":{"x":{"field":"t","type":"quantitative","axis":{"orient":"top","labels":false,"title":null,"values":[5,10,15,20,25]}},"y":{"field":"v","type":"quantitative","axis":{"orient":"right","labels":false,"title":null,"values":[-0.2,0,0.2]}},"detail":{"field":"s"}}}]},
{"data":{"name":"br"},"title":"(b)","width":371.5,"height":68,"resolve":{"axis":{"x":"independent","y":"independent"}},"layer":[
{"mark":"line","encoding":{"x":{"field":"t","type":"quantitative","scale":{"domain":[0.1,25.69],"nice":false,"zero":false},"axis":{"title":"t(s)","values":[5,10,15,20,25]}},"y":{"field":"v","type":"quantitative","scale":{"domain":[-0.2,0.2],"nice":false,"zero":false},"axis":{"title":"r(rad/s)","values":[-0.2,0,0.2]}},"color":{"field":"s","type":"nominal"},"strokeDash":{"field":"s","type":"nominal"}}},
{"mark":{"type":"line","opacity":0},"encoding":{"x":{"field":"t","type":"quantitative","axis":{"orient":"top","labels":false,"title":null,"values":[5,10,15,20,25]}},"y":{"field":"v","type":"quantitative","axis":{"orient":"right","labels":false,"title":null,"values":[-0.2,0,0.2]}},"detail":{"field":"s"}}}]},
{"data":{"name":"ap"},"width":371.5,"height":68,"resolve":{"axis":{"x":"independent","y":"independent"}},"layer":[
{"mark":"line","encoding":{"x":{"field":"t","type":"quantitative","scale":{"domain":[0.03,27.35],"nice":false,"zero":false},"axis":{"title":"t(s)","values":[5,10,15,20,25]}},"y":{"field":"v","type":"quantitative","scale":{"domain":[-0.236,0.278],"nice":false,"zero":false},"axis":{"title":"Δψ(rad)","values":[-0.2,0,0.2]}},"color":{"field":"s","type":"nominal"},"strokeDash":{"field":"s","type":"nominal"}}},
{"mark":{"type":"line","opacity":0},"encoding":{"x":{"field":"t","type":"quantitative","axis":{"orient":"top","labels":false,"title":null,"values":[5,10,15,20,25]}},"y":{"field":"v","type":"quantitative","axis":{"orient":"right","labels":false,"title":null,"values":[-0.2,0,0.2]}},"detail":{"field":"s"}}}]},
{"data":{"name":"bp"},"width":371.5,"height":68,"resolve":{"axis":{"x":"independent","y":"independent"}},"layer":[
{"mark":"line","encoding":{"x":{"field":"t","type":"quantitative","scale":{"domain":[0.1,25.69],"nice":false,"zero":false},"axis":{"title":"t(s)","values":[5,10,15,20,25]}},"y":{"field":"v","type":"quantitative","scale":{"domain":[-0.228,0.278],"nice":false,"zero":false},"axis":{"title":"Δψ(rad)","values":[-0.2,0,0.2]}},"color":{"field":"s","type":"nominal"},"strokeDash":{"field":"s","type":"nominal"}}},
{"mark":{"type":"line","opacity":0},"encoding":{"x":{"field":"t","type":"quantitative","axis":{"orient":"top","labels":false,"title":null,"values":[5,10,15,20,25]}},"y":{"field":"v","type":"quantitative","axis":{"orient":"right","labels":false,"title":null,"values":[-0.2,0,0.2]}},"detail":{"field":"s"}}}]},
{"data":{"name":"ay"},"width":371.5,"height":68,"resolve":{"axis":{"x":"independent","y":"independent"}},"layer":[
{"mark":"line","encoding":{"x":{"field":"t","type":"quantitative","scale":{"domain":[0.03,27.35],"nice":false,"zero":false},"axis":{"title":"t(s)","values":[5,10,15,20,25]}},"y":{"field":"v","type":"quantitative","scale":{"domain":[-1,1],"nice":false,"zero":false},"axis":{"title":"y(m)","values":[-1,0,1]}},"color":{"field":"s","type":"nominal"},"strokeDash":{"field":"s","type":"nominal"}}},
{"mark":{"type":"line","opacity":0},"encoding":{"x":{"field":"t","type":"quantitative","axis":{"orient":"top","labels":false,"title":null,"values":[5,10,15,20,25]}},"y":{"field":"v","type":"quantitative","axis":{"orient":"right","labels":false,"title":null,"values":[-1,0,1]}},"detail":{"field":"s"}}}]},
{"data":{"name":"by"},"width":371.5,"height":68,"resolve":{"axis":{"x":"independent","y":"independent"}},"layer":[
{"mark":"line","encoding":{"x":{"field":"t","type":"quantitative","scale":{"domain":[0.1,25.69],"nice":false,"zero":false},"axis":{"title":"t(s)","values":[5,10,15,20,25]}},"y":{"field":"v","type":"quantitative","scale":{"domain":[-1,1],"nice":false,"zero":false},"axis":{"title":"y(m)","values":[-1,0,1]}},"color":{"field":"s","type":"nominal"},"strokeDash":{"field":"s","type":"nominal"}}},
{"mark":{"type":"line","opacity":0},"encoding":{"x":{"field":"t","type":"quantitative","axis":{"orient":"top","labels":false,"title":null,"values":[5,10,15,20,25]}},"y":{"field":"v","type":"quantitative","axis":{"orient":"right","labels":false,"title":null,"values":[-1,0,1]}},"detail":{"field":"s"}}}]},
{"data":{"name":"cr"},"title":"(c)","width":371.5,"height":68,"resolve":{"axis":{"x":"independent","y":"independent"}},"layer":[
{"mark":"line","encoding":{"x":{"field":"t","type":"quantitative","scale":{"domain":[0.01,25],"nice":false,"zero":false},"axis":{"title":"t(s)","values":[5,10,15,20,25]}},"y":{"field":"v","type":"quantitative","scale":{"domain":[-0.2,0.2],"nice":false,"zero":false},"axis":{"title":"r(rad/s)","values":[-0.2,0,0.2]}},"color":{"field":"s","type":"nominal"},"strokeDash":{"field":"s","type":"nominal"}}},
{"mark":{"type":"line","opacity":0},"encoding":{"x":{"field":"t","type":"quantitative","axis":{"orient":"top","labels":false,"title":null,"values":[5,10,15,20,25]}},"y":{"field":"v","type":"quantitative","axis":{"orient":"right","labels":false,"title":null,"values":[-0.2,0,0.2]}},"detail":{"field":"s"}}}]},
{"data":{"name":"dr"},"title":"(d)","width":371.5,"height":68,"resolve":{"axis":{"x":"independent","y":"independent"}},"layer":[
{"mark":"line","encoding":{"x":{"field":"t","type":"quantitative","scale":{"domain":[0.12,25.07],"nice":false,"zero":false},"axis":{"title":"t(s)","values":[5,10,15,20,25]}},"y":{"field":"v","type":"quantitative","scale":{"domain":[-0.2,0.2],"nice":false,"zero":false},"axis":{"title":"r(rad/s)","values":[-0.2,0,0.2]}},"color":{"field":"s","type":"nominal"},"strokeDash":{"field":"s","type":"nominal"}}},
{"mark":{"type":"line","opacity":0},"encoding":{"x":{"field":"t","type":"quantitative","axis":{"orient":"top","labels":false,"title":null,"values":[5,10,15,20,25]}},"y":{"field":"v","type":"quantitative","axis":{"orient":"right","labels":false,"title":null,"values":[-0.2,0,0.2]}},"detail":{"field":"s"}}}]},
{"data":{"name":"cp"},"width":371.5,"height":68,"resolve":{"axis":{"x":"independent","y":"independent"}},"layer":[
{"mark":"line","encoding":{"x":{"field":"t","type":"quantitative","scale":{"domain":[0.01,25],"nice":false,"zero":false},"axis":{"title":"t(s)","values":[5,10,15,20,25]}},"y":{"field":"v","type":"quantitative","scale":{"domain":[-0.23,0.295],"nice":false,"zero":false},"axis":{"title":"Δψ(rad)","values":[-0.2,0,0.2]}},"color":{"field":"s","type":"nominal"},"strokeDash":{"field":"s","type":"nominal"}}},
{"mark":{"type":"line","opacity":0},"encoding":{"x":{"field":"t","type":"quantitative","axis":{"orient":"top","labels":false,"title":null,"values":[5,10,15,20,25]}},"y":{"field":"v","type":"quantitative","axis":{"orient":"right","labels":false,"title":null,"values":[-0.2,0,0.2]}},"detail":{"field":"s"}}}]},
{"data":{"name":"dp"},"width":371.5,"height":68,"resolve":{"axis":{"x":"independent","y":"independent"}},"layer":[
{"mark":"line","encoding":{"x":{"field":"t","type":"quantitative","scale":{"domain":[0.12,25.07],"nice":false,"zero":false},"axis":{"title":"t(s)","values":[5,10,15,20,25]}},"y":{"field":"v","type":"quantitative","scale":{"domain":[-0.236,0.252],"nice":false,"zero":false},"axis":{"title":"Δψ(rad)","values":[-0.2,0,0.2]}},"color":{"field":"s","type":"nominal"},"strokeDash":{"field":"s","type":"nominal"}}},
{"mark":{"type":"line","opacity":0},"encoding":{"x":{"field":"t","type":"quantitative","axis":{"orient":"top","labels":false,"title":null,"values":[5,10,15,20,25]}},"y":{"field":"v","type":"quantitative","axis":{"orient":"right","labels":false,"title":null,"values":[-0.2,0,0.2]}},"detail":{"field":"s"}}}]},
{"data":{"name":"cy"},"width":371.5,"height":68,"resolve":{"axis":{"x":"independent","y":"independent"}},"layer":[
{"mark":"line","encoding":{"x":{"field":"t","type":"quantitative","scale":{"domain":[0.01,25],"nice":false,"zero":false},"axis":{"title":"t(s)","values":[5,10,15,20,25]}},"y":{"field":"v","type":"quantitative","scale":{"domain":[-1,1],"nice":false,"zero":false},"axis":{"title":"y(m)","values":[-1,0,1]}},"color":{"field":"s","type":"nominal"},"strokeDash":{"field":"s","type":"nominal"}}},
{"mark":{"type":"line","opacity":0},"encoding":{"x":{"field":"t","type":"quantitative","axis":{"orient":"top","labels":false,"title":null,"values":[5,10,15,20,25]}},"y":{"field":"v","type":"quantitative","axis":{"orient":"right","labels":false,"title":null,"values":[-1,0,1]}},"detail":{"field":"s"}}}]},
{"data":{"name":"dy"},"width":371.5,"height":68,"resolve":{"axis":{"x":"independent","y":"independent"}},"layer":[
{"mark":"line","encoding":{"x":{"field":"t","type":"quantitative","scale":{"domain":[0.12,25.07],"nice":false,"zero":false},"axis":{"title":"t(s)","values":[5,10,15,20,25]}},"y":{"field":"v","type":"quantitative","scale":{"domain":[-1.03,1.12],"nice":false,"zero":false},"axis":{"title":"y(m)","values":[-1,0,1]}},"color":{"field":"s","type":"nominal"},"strokeDash":{"field":"s","type":"nominal"}}},
{"mark":{"type":"line","opacity":0},"encoding":{"x":{"field":"t","type":"quantitative","axis":{"orient":"top","labels":false,"title":null,"values":[5,10,15,20,25]}},"y":{"field":"v","type":"quantitative","axis":{"orient":"right","labels":false,"title":null,"values":[-1,0,1]}},"detail":{"field":"s"}}}]}
]
}
